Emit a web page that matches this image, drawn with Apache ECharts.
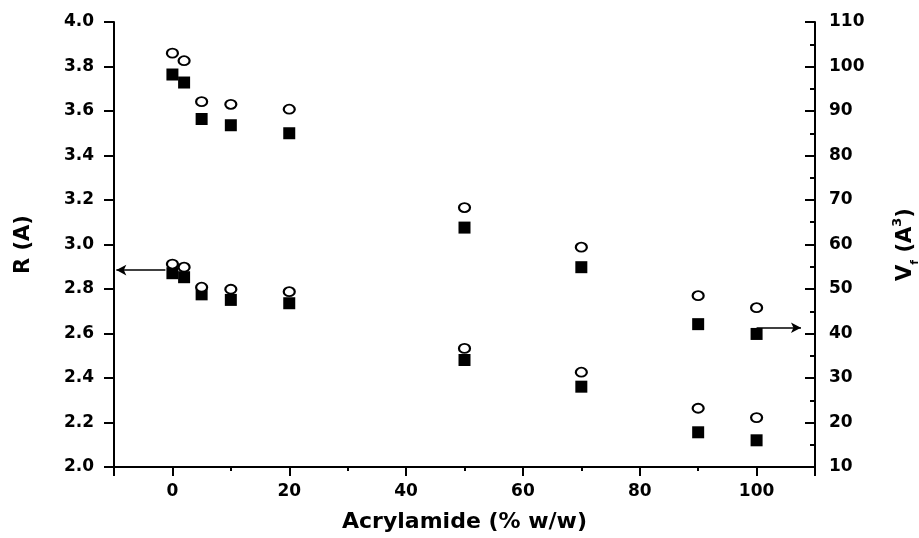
<!DOCTYPE html>
<html>
<head>
<meta charset="utf-8">
<script src="https://cdn.jsdelivr.net/npm/echarts@6/dist/echarts.min.js"></script>
<style>
  html, body { margin: 0; padding: 0; background: #fff; }
  #chart { width: 919px; height: 538px; }
</style>
</head>
<body>
<div id="chart"></div>
<script>
// acrylamide content (% w/w)
var acrylamide = [0, 2, 5, 10, 20, 50, 70, 90, 100];

// R (A), left axis
var rFilled = [2.871, 2.853, 2.776, 2.751, 2.736, 2.481, 2.361, 2.156, 2.120];
var rOpen   = [2.912, 2.898, 2.808, 2.799, 2.788, 2.533, 2.426, 2.264, 2.222];

// Vf (A^3), right axis
var vFilled = [98.2, 96.4, 88.2, 86.8, 85.0, 63.8, 54.9, 42.1, 39.9];
var vOpen   = [103.0, 101.3, 92.1, 91.5, 90.4, 68.3, 59.4, 48.5, 45.8];

// arrows pointing to the axis each group belongs to
var arrowLeft  = [[-1.2, 2.885], [-9.6, 2.885]];
var arrowRight = [[100, 41.3], [107.6, 41.3]];

var xMajorTicks = [-10, 0, 20, 40, 60, 80, 100, 110];

function pairs(xs, ys) {
  return xs.map(function (x, i) { return [x, ys[i]]; });
}

var font = 'DejaVu Sans';
var labelStyle = { color: '#000', fontFamily: font, fontWeight: 'bold', fontSize: 17 };
var lineStyle = { color: '#000', width: 2 };

var myChart = echarts.init(document.getElementById('chart'));

var option = {
  animation: false,
  backgroundColor: '#fff',
  grid: { left: 114, right: 104, top: 22, bottom: 71, outerBoundsMode: 'none', containLabel: false },
  xAxis: [
    {
      type: 'value',
      min: -10, max: 110, interval: 10,
      name: 'Acrylamide (% w/w)',
      nameLocation: 'middle',
      nameGap: 44,
      nameMoveOverlap: false,
      nameTextStyle: { color: '#000', fontFamily: font, fontWeight: 'bold', fontSize: 22 },
      axisLine: { onZero: false, lineStyle: lineStyle },
      axisTick: { show: true, length: 4, lineStyle: lineStyle },
      axisLabel: Object.assign({
        margin: 16,
        formatter: function (v) {
          return (v >= 0 && v <= 100 && v % 20 === 0) ? String(v) : '';
        }
      }, labelStyle),
      splitLine: { show: false }
    },
    {
      type: 'value',
      position: 'bottom',
      min: -10, max: 110, interval: 10,
      axisLine: { show: false, onZero: false },
      axisTick: { show: true, length: 9, customValues: xMajorTicks, lineStyle: lineStyle },
      axisLabel: { show: false },
      splitLine: { show: false }
    }
  ],
  yAxis: [
    {
      type: 'value',
      position: 'left',
      min: 2, max: 4, interval: 0.2,
      name: 'R (A)',
      nameLocation: 'middle',
      nameGap: 80,
      nameMoveOverlap: false,
      nameTextStyle: { color: '#000', fontFamily: font, fontWeight: 'bold', fontSize: 21 },
      axisLine: { show: true, onZero: false, lineStyle: lineStyle },
      axisTick: { show: true, length: 10, lineStyle: lineStyle },
      axisLabel: Object.assign({
        margin: 20,
        formatter: function (v) { return v.toFixed(1); }
      }, labelStyle),
      splitLine: { show: false }
    },
    {
      type: 'value',
      position: 'right',
      min: 10, max: 110, interval: 10,
      name: '{b|V}{s|f}{b| (A}{p|3}{b|)}',
      nameLocation: 'middle',
      nameGap: 76,
      nameMoveOverlap: false,
      nameTextStyle: {
        color: '#000',
        rich: {
          b: { fontFamily: font, fontWeight: 'bold', fontSize: 21, lineHeight: 30 },
          s: { fontFamily: font, fontWeight: 'bold', fontSize: 11, verticalAlign: 'bottom', lineHeight: 26 },
          p: { fontFamily: font, fontWeight: 'bold', fontSize: 13, verticalAlign: 'top', lineHeight: 30 }
        }
      },
      axisLine: { show: true, onZero: false, lineStyle: lineStyle },
      axisTick: { show: true, inside: true, length: 10, lineStyle: lineStyle },
      minorTick: { show: true, splitNumber: 2, length: 5, lineStyle: lineStyle },
      axisLabel: Object.assign({ margin: 14 }, labelStyle),
      splitLine: { show: false }
    }
  ],
  series: [
    {
      name: 'R filled',
      type: 'scatter',
      yAxisIndex: 0,
      symbol: 'rect',
      symbolSize: 12,
      itemStyle: { color: '#000', opacity: 1 },
      data: pairs(acrylamide, rFilled)
    },
    {
      name: 'R open',
      type: 'scatter',
      yAxisIndex: 0,
      symbol: 'circle',
      symbolSize: [11, 9],
      itemStyle: { color: '#fff', borderColor: '#000', borderWidth: 2, opacity: 1 },
      data: pairs(acrylamide, rOpen),
      markLine: {
        silent: true,
        symbol: ['none', 'arrow'],
        symbolSize: [8, 10],
        label: { show: false },
        lineStyle: { color: '#000', width: 1.5, type: 'solid' },
        data: [[{ coord: arrowLeft[0] }, { coord: arrowLeft[1] }]]
      }
    },
    {
      name: 'Vf filled',
      type: 'scatter',
      yAxisIndex: 1,
      symbol: 'rect',
      symbolSize: 12,
      itemStyle: { color: '#000', opacity: 1 },
      data: pairs(acrylamide, vFilled),
      markLine: {
        silent: true,
        symbol: ['none', 'arrow'],
        symbolSize: [8, 10],
        label: { show: false },
        lineStyle: { color: '#000', width: 1.5, type: 'solid' },
        data: [[{ coord: arrowRight[0] }, { coord: arrowRight[1] }]]
      }
    },
    {
      name: 'Vf open',
      type: 'scatter',
      yAxisIndex: 1,
      symbol: 'circle',
      symbolSize: [11, 9],
      itemStyle: { color: '#fff', borderColor: '#000', borderWidth: 2, opacity: 1 },
      data: pairs(acrylamide, vOpen)
    }
  ]
};

myChart.setOption(option);
</script>
</body>
</html>
